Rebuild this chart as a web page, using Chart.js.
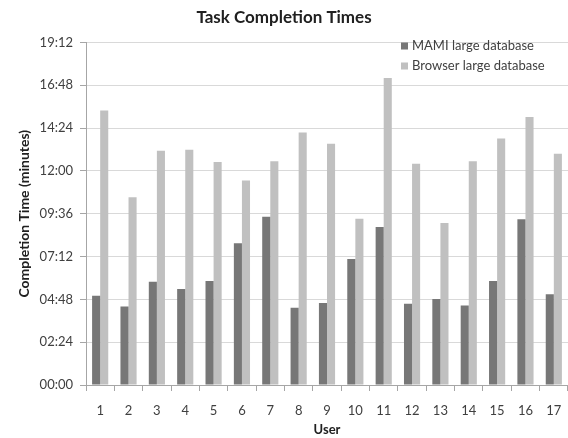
<!DOCTYPE html>
<html>
<head>
<meta charset="utf-8">
<script src="https://cdn.jsdelivr.net/npm/chart.js@4"></script>
<style>
  html, body { margin: 0; padding: 0; background: #fff; }
  #wrap { width: 568px; height: 438px; }
</style>
</head>
<body>
<div id="wrap"><canvas id="chart"></canvas></div>
<script>
// times in seconds
const users = ["1","2","3","4","5","6","7","8","9","10","11","12","13","14","15","16","17"];
const mamiTimes = [300, 264, 347, 323, 350, 477, 566, 260, 276, 424, 531, 273, 289, 267, 350, 557, 305];
const browserTimes = [923, 631, 788, 791, 750, 688, 752, 849, 811, 559, 1032, 744, 545, 752, 829, 901, 778];
const seriesNames = ["MAMI large database", "Browser large database"];
const maxTime = 1152;
const tickStep = 144;

const FONT = "Lato, 'Open Sans', sans-serif";

function toMinSec(s) {
  const m = Math.floor(s / 60);
  const sec = Math.round(s % 60);
  return String(m).padStart(2, "0") + ":" + String(sec).padStart(2, "0");
}

// legend drawn inside the plot, top right
const insideLegend = {
  id: "insideLegend",
  afterDraw(chart) {
    const ctx = chart.ctx;
    ctx.save();
    ctx.font = "13px " + FONT;
    ctx.textBaseline = "middle";
    chart.data.datasets.forEach((ds, i) => {
      const y = 46 + i * 20;
      ctx.fillStyle = ds.backgroundColor;
      ctx.fillRect(401, y - 3.5, 7, 7);
      ctx.fillStyle = "#404040";
      ctx.fillText(ds.label, 412, y);
    });
    ctx.restore();
  }
};

new Chart(document.getElementById("chart"), {
  type: "bar",
  data: {
    labels: users,
    datasets: [
      { label: seriesNames[0], data: mamiTimes, backgroundColor: "#777777" },
      { label: seriesNames[1], data: browserTimes, backgroundColor: "#c0c0c0" }
    ]
  },
  options: {
    responsive: true,
    maintainAspectRatio: false,
    animation: false,
    datasets: { bar: { categoryPercentage: 0.57, barPercentage: 1.0 } },
    layout: { padding: 0 },
    plugins: {
      legend: { display: false },
      tooltip: { enabled: false },
      title: {
        display: true,
        text: "Task Completion Times",
        color: "#202020",
        font: { family: FONT, size: 17, weight: "bold" },
        padding: { top: 7, bottom: 15 }
      }
    },
    scales: {
      x: {
        grid: { offset: true, drawOnChartArea: false, tickLength: 6, color: "#a6a6a6" },
        border: { color: "#a6a6a6" },
        ticks: { color: "#404040", font: { family: FONT, size: 13 }, padding: 12 },
        title: {
          display: true, text: "User", color: "#202020",
          font: { family: FONT, size: 13, weight: "bold" }, padding: { top: 4, bottom: 0 }
        },
        afterFit(scale) {
          scale.height = 53;
          scale.paddingLeft = 0;
          scale.paddingRight = 0;
        }
      },
      y: {
        min: 0,
        max: maxTime,
        grid: { color: "#d9d9d9", tickLength: 6, tickColor: "#a6a6a6" },
        border: { color: "#a6a6a6" },
        ticks: {
          stepSize: tickStep,
          color: "#404040",
          font: { family: FONT, size: 13 },
          padding: 7,
          callback: v => toMinSec(v)
        },
        title: {
          display: true, text: "Completion Time (minutes)", color: "#202020",
          font: { family: FONT, size: 14, weight: "bold" }, padding: { top: 16, bottom: 0 }
        },
        afterFit(scale) { scale.width = 86; }
      }
    }
  },
  plugins: [insideLegend]
});
</script>
</body>
</html>
